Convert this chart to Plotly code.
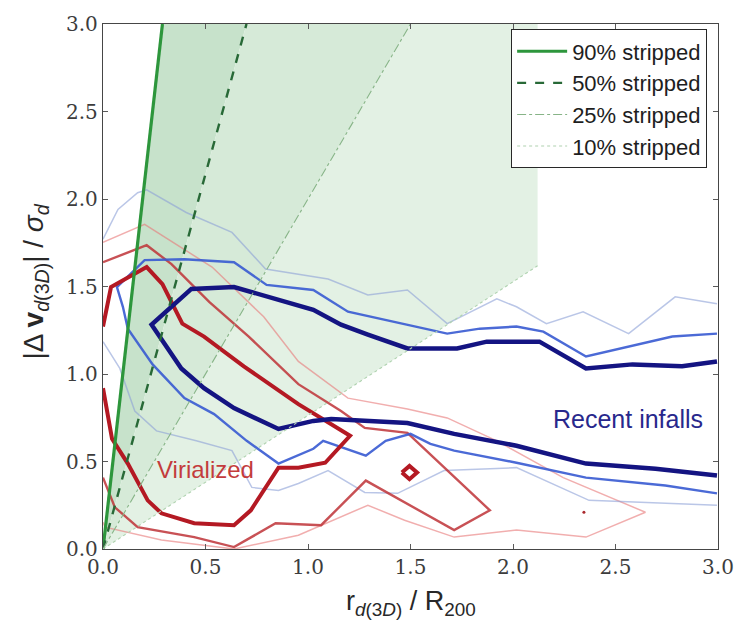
import plotly.graph_objects as go

# ---- stripping thresholds: straight lines through the origin -------------
strip_labels = ["90% stripped", "50% stripped", "25% stripped", "10% stripped"]
strip_r_at_top = [0.29, 0.70, 1.50, 3.93]   # r at which each line reaches |dv|/sigma = 3
strip_colors = ["rgb(45,150,60)", "rgb(40,105,55)", "rgb(135,180,135)", "rgb(175,210,175)"]
strip_widths = [3.2, 2.4, 1.1, 1.1]
strip_dash = ["solid", "dash", "dashdot", "dot"]
shade_colors = ["rgb(199,226,203)", "rgb(214,234,216)", "rgb(227,241,228)"]
r_shade_max = 2.12
v_top = 3.0

# ---- virialized population (red contours) ---------------------------------
vir3_x = [0, 0.039, 0.213, 0.290, 0.387, 0.493, 0.687, 0.953, 1.205, 1.084, 0.953,
          0.856, 0.721, 0.639, 0.445, 0.285, 0.218, 0.121, 0.044, 0]
vir3_y = [1.271, 1.497, 1.611, 1.514, 1.288, 1.214, 1.044, 0.828, 0.647, 0.493, 0.465,
          0.465, 0.221, 0.136, 0.147, 0.204, 0.278, 0.488, 0.630, 0.919]
vir3_peak_x = [1.458, 1.495, 1.532, 1.495, 1.458]
vir3_peak_y = [0.437, 0.475, 0.437, 0.399, 0.437]
vir2_dot_x = [2.346]
vir2_dot_y = [0.21]

vir2_x = [0, 0.213, 0.334, 0.518, 0.711, 0.953, 1.161, 1.277, 1.485, 1.887, 1.713,
          1.282, 1.064, 0.842, 0.639, 0.445, 0.169, 0.058, 0]
vir2_y = [1.639, 1.736, 1.628, 1.412, 1.214, 0.942, 0.788, 0.692, 0.664, 0.221, 0.108,
          0.391, 0.136, 0.147, 0.011, 0.068, 0.125, 0.238, 0.408]

vir1_x = [0, 0.203, 0.532, 0.784, 0.953, 1.195, 1.485, 1.679, 1.921, 2.245, 2.646,
          2.356, 2.017, 1.713, 1.471, 1.292, 0.953, 0.639, 0.285, 0.010, 0]
vir1_y = [1.753, 1.855, 1.611, 1.327, 1.072, 0.862, 0.800, 0.749, 0.618, 0.408, 0.210,
          0.068, 0.108, 0.068, 0.164, 0.250, 0.079, 0.0, 0.051, 0.125, 0.153]

# ---- recent infalls (blue contours) ---------------------------------------
inf3_x = [2.995, 2.825, 2.583, 2.356, 2.129, 1.872, 1.727, 1.485, 1.292, 1.161, 1.026,
          0.798, 0.639, 0.431, 0.237, 0.382, 0.493, 0.639, 0.856, 1.026, 1.113, 1.485,
          1.713, 2.017, 2.356, 2.695, 2.995]
inf3_y = [1.072, 1.044, 1.055, 1.032, 1.185, 1.185, 1.146, 1.146, 1.225, 1.282, 1.367,
          1.441, 1.497, 1.486, 1.282, 1.032, 0.919, 0.805, 0.686, 0.732, 0.743, 0.720,
          0.658, 0.590, 0.488, 0.459, 0.420]

inf2_x = [2.995, 2.777, 2.356, 2.148, 2.017, 1.838, 1.679, 1.485, 1.195, 1.026, 0.798,
          0.639, 0.397, 0.203, 0.068, 0.097, 0.121, 0.242, 0.397, 0.542, 0.701, 0.856,
          1.026, 1.074, 1.282, 1.379, 1.500, 1.597, 1.713, 2.017, 2.356, 2.743, 2.995]
inf2_y = [1.231, 1.214, 1.100, 1.242, 1.271, 1.259, 1.231, 1.282, 1.356, 1.480, 1.509,
          1.639, 1.656, 1.651, 1.497, 1.384, 1.259, 1.055, 0.862, 0.771, 0.618, 0.488,
          0.573, 0.618, 0.533, 0.618, 0.658, 0.601, 0.562, 0.493, 0.408, 0.363, 0.318]

inf1_upper_x = [0, 0.073, 0.169, 0.213, 0.406, 0.629, 0.793, 1.098, 1.292, 1.485, 1.679,
                1.921, 2.017, 2.163, 2.342, 2.564, 2.791, 2.995]
inf1_upper_y = [1.770, 1.940, 2.036, 2.053, 1.923, 1.809, 1.600, 1.543, 1.452, 1.480, 1.288,
                1.429, 1.384, 1.288, 1.356, 1.231, 1.441, 1.401]
inf1_lower_x = [0, 0.082, 0.155, 0.261, 0.455, 0.629, 0.726, 0.856, 0.953, 1.098, 1.277,
                1.437, 1.664, 2.017, 2.371, 2.995]
inf1_lower_y = [1.185, 1.032, 0.788, 0.675, 0.618, 0.562, 0.352, 0.335, 0.374, 0.448, 0.323,
                0.318, 0.448, 0.465, 0.278, 0.250]

SANS = "Liberation Sans, Arial, sans-serif"
SERIF = "DejaVu Serif, serif"

fig = go.Figure()


def line_end(r_top):
    """End point of a stripping line, cut at the edge of the shaded domain."""
    if r_top <= r_shade_max:
        return r_top, v_top
    return r_shade_max, v_top * r_shade_max / r_top


def wedge(r_left, r_right):
    """Polygon between two stripping lines, inside r <= r_shade_max, v <= v_top."""
    xs, ys = [0.0], [0.0]
    ex, ey = line_end(r_right)
    xs.append(ex)
    ys.append(ey)
    if ey < v_top:
        xs.append(r_shade_max)
        ys.append(v_top)
    xs.append(min(r_left, r_shade_max))
    ys.append(v_top)
    xs.append(0.0)
    ys.append(0.0)
    return xs, ys


# shaded bands between successive stripping levels
for i in range(3):
    wx, wy = wedge(strip_r_at_top[i], strip_r_at_top[i + 1])
    fig.add_trace(go.Scatter(x=wx, y=wy, mode="lines", fill="toself",
                             fillcolor=shade_colors[i], line=dict(width=0),
                             hoverinfo="skip", showlegend=False))


def contour(x, y, color, width):
    fig.add_trace(go.Scatter(x=x, y=y, mode="lines",
                             line=dict(color=color, width=width),
                             hoverinfo="skip", showlegend=False))


# faint outer levels first, strongest levels on top
contour(vir1_x, vir1_y, "rgba(232,120,120,0.6)", 1.5)
contour(inf1_upper_x, inf1_upper_y, "rgba(140,160,215,0.6)", 1.5)
contour(inf1_lower_x, inf1_lower_y, "rgba(140,160,215,0.6)", 1.5)
contour(vir2_x, vir2_y, "rgba(190,50,55,0.85)", 2.4)
contour(inf2_x, inf2_y, "rgba(55,90,210,0.9)", 2.4)
contour(vir3_x, vir3_y, "rgb(180,25,35)", 4)
contour(vir3_peak_x, vir3_peak_y, "rgb(180,25,35)", 4)
contour(inf3_x, inf3_y, "rgb(20,20,130)", 4.5)
fig.add_trace(go.Scatter(x=vir2_dot_x, y=vir2_dot_y, mode="markers",
                         marker=dict(color="rgb(170,40,45)", size=3),
                         hoverinfo="skip", showlegend=False))

# stripping lines (legend entries)
for i, lab in enumerate(strip_labels):
    ex, ey = line_end(strip_r_at_top[i])
    fig.add_trace(go.Scatter(x=[0, ex], y=[0, ey], mode="lines", name=lab,
                             legendgroup=lab,
                             line=dict(color=strip_colors[i], width=strip_widths[i],
                                       dash=strip_dash[i]),
                             hoverinfo="skip"))

fig.add_annotation(x=0.50, y=0.455, xref="x", yref="y", text="Virialized",
                   showarrow=False, font=dict(family=SANS, size=24, color="rgb(195,60,60)"))
fig.add_annotation(x=2.56, y=0.745, xref="x", yref="y", text="Recent infalls",
                   showarrow=False, font=dict(family=SANS, size=25, color="rgb(40,40,140)"))

# axis titles
fig.add_annotation(x=0.5, y=-0.103, xref="paper", yref="paper",
                   text="r<sub><i>d</i>(3<i>D</i>)</sub> / R<sub>200</sub>",
                   showarrow=False, xanchor="center", yanchor="middle",
                   font=dict(family=SANS, size=27, color="rgb(40,40,40)"))
fig.add_annotation(x=-0.110, y=0.51, xref="paper", yref="paper",
                   text="|Δ <b>v</b><sub><i>d</i>(3<i>D</i>)</sub>| / <i>σ<sub>d</sub></i>",
                   textangle=-90, showarrow=False, xanchor="center", yanchor="middle",
                   font=dict(family=SANS, size=28, color="rgb(40,40,40)"))

axis_common = dict(range=[0, 3], tickmode="array",
                   tickvals=[0, 0.5, 1.0, 1.5, 2.0, 2.5, 3.0],
                   ticktext=["0.0", "0.5", "1.0", "1.5", "2.0", "2.5", "3.0"],
                   ticks="inside", ticklen=5, tickwidth=1, tickcolor="rgb(90,90,90)",
                   showline=True, linecolor="rgb(70,70,70)", linewidth=1.3,
                   mirror="ticks", showgrid=False, zeroline=False,
                   tickfont=dict(family=SERIF, size=20, color="rgb(60,60,60)"))

fig.update_xaxes(**axis_common)
fig.update_yaxes(**axis_common)

fig.update_layout(
    width=746, height=622,
    margin=dict(l=103, r=23, t=20, b=73),
    paper_bgcolor="white", plot_bgcolor="white",
    showlegend=True,
    legend=dict(x=0.982, y=0.99, xanchor="right", yanchor="top",
                bgcolor="white", bordercolor="rgb(40,40,40)", borderwidth=1.2,
                font=dict(family=SANS, size=22, color="rgb(30,30,30)"),
                tracegroupgap=0, itemwidth=50),
)

fig.write_html("out.html")
